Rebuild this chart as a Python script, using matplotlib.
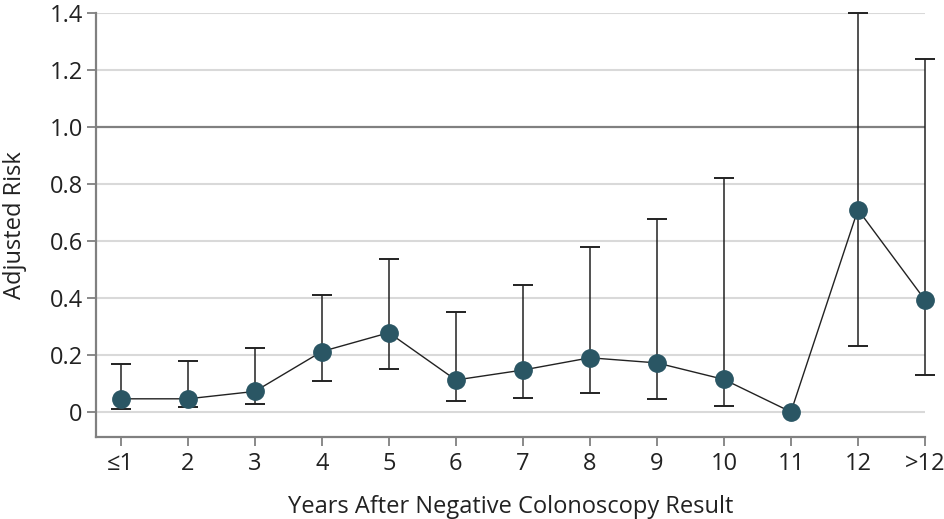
import numpy as np
import matplotlib
matplotlib.use("Agg")
import matplotlib.pyplot as plt

plt.rcParams["font.family"] = ["Open Sans", "DejaVu Sans"]

# data
years = ["≤1", "2", "3", "4", "5", "6", "7", "8", "9", "10", "11", "12", ">12"]
risk = [0.046, 0.046, 0.072, 0.212, 0.278, 0.112, 0.147, 0.19, 0.172, 0.114, 0.0, 0.71, 0.393]
ci_low = [0.011, 0.017, 0.027, 0.11, 0.15, 0.04, 0.05, 0.065, 0.047, 0.022, np.nan, 0.232, 0.131]
ci_high = [0.168, 0.18, 0.225, 0.41, 0.537, 0.352, 0.447, 0.58, 0.678, 0.822, np.nan, 1.4, 1.237]
yticks = [0, 0.2, 0.4, 0.6, 0.8, 1.0, 1.2, 1.4]
ytick_labels = ["0", "0.2", "0.4", "0.6", "0.8", "1.0", "1.2", "1.4"]

fig = plt.figure(figsize=(9.45, 5.19), dpi=100)
ax = fig.add_axes([0.1016, 0.158, 0.8772, 0.817])

x = np.arange(len(years))
risk = np.array(risk)
lo = np.array(ci_low)
hi = np.array(ci_high)

# grid
for yt in yticks:
    if yt == 1.0:
        ax.axhline(yt, color="#808080", lw=1.6, zorder=1)
    else:
        ax.axhline(yt, color="#d9d9d9", lw=1.5, zorder=1)

# error bars (none for year 11)
ok = ~np.isnan(lo)
eb = ax.errorbar(x[ok], risk[ok], yerr=[risk[ok] - lo[ok], hi[ok] - risk[ok]],
                 fmt="none", ecolor="#222222", elinewidth=1.1, capsize=7.5,
                 capthick=1.4, zorder=2, clip_on=False)
for cap in eb[1]:
    cap.set_color("#6e6e6e")

ax.plot(x, risk, color="#222222", lw=1.0, zorder=3, clip_on=False)
ax.plot(x, risk, "o", color="#2a5664", markersize=12.5, zorder=4, clip_on=False)

ax.set_xlim(-0.37, 12)
ax.set_ylim(-0.088, 1.4)
ax.set_xticks(x)
ax.set_xticklabels(years)
ax.set_yticks(yticks)
ax.set_yticklabels(ytick_labels)

for s in ["top", "right"]:
    ax.spines[s].set_visible(False)
for s in ["left", "bottom"]:
    ax.spines[s].set_color("#808080")
    ax.spines[s].set_linewidth(1.6)

ax.tick_params(axis="both", colors="#808080", length=6.5, width=1.3,
               labelsize=17, labelcolor="#222222")
ax.tick_params(axis="x", pad=4)
ax.tick_params(axis="y", pad=3)

ax.set_xlabel("Years After Negative Colonoscopy Result", fontsize=17,
              color="#222222", labelpad=14)
ax.set_ylabel("Adjusted Risk", fontsize=17, color="#222222", labelpad=16)

fig.savefig("out.png", dpi=100)
